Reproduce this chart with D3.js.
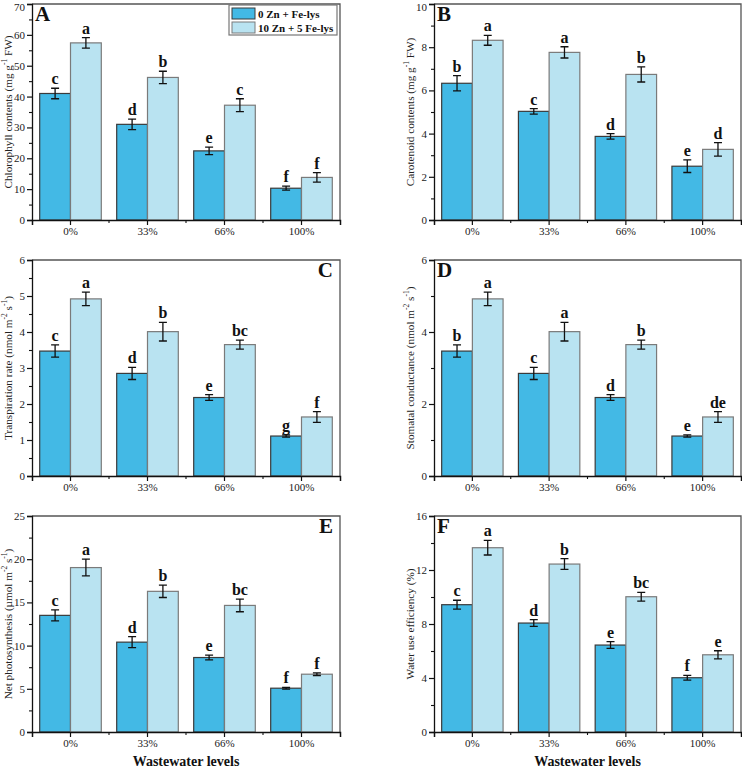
<!DOCTYPE html>
<html><head><meta charset="utf-8">
<script src="https://cdn.jsdelivr.net/npm/d3@7"></script>
<style>body{margin:0;background:#fff}svg{display:block}</style>
</head><body>
<svg id="c" width="742" height="767"></svg>
<script>
const categories = ["0%", "33%", "66%", "100%"];
const seriesNames = ["0 Zn + Fe-lys", "10 Zn + 5 Fe-lys"];

const chlorophyllCtrl = [41.0, 31.0, 22.4, 10.3];
const chlorophyllCtrlErr = [1.7, 1.7, 1.2, 0.65];
const chlorophyllTrt = [57.4, 46.2, 37.2, 13.8];
const chlorophyllTrtErr = [1.7, 2.0, 2.1, 1.55];
const chlorophyllCtrlLetters = ["c", "d", "e", "f"];
const chlorophyllTrtLetters = ["a", "b", "c", "f"];
const chlorophyllTicks = [0, 10, 20, 30, 40, 50, 60, 70];

const carotenoidCtrl = [6.33, 5.03, 3.87, 2.49];
const carotenoidCtrlErr = [0.35, 0.13, 0.13, 0.29];
const carotenoidTrt = [8.32, 7.76, 6.74, 3.27];
const carotenoidTrtErr = [0.23, 0.26, 0.35, 0.31];
const carotenoidCtrlLetters = ["b", "c", "d", "e"];
const carotenoidTrtLetters = ["a", "a", "b", "d"];
const carotenoidTicks = [0, 2, 4, 6, 8, 10];

const transpCtrl = [3.47, 2.85, 2.18, 1.11];
const transpCtrlErr = [0.17, 0.17, 0.08, 0.03];
const transpTrt = [4.92, 4.01, 3.65, 1.64];
const transpTrtErr = [0.19, 0.26, 0.125, 0.15];
const transpCtrlLetters = ["c", "d", "e", "g"];
const transpTrtLetters = ["a", "b", "bc", "f"];
const transpTicks = [0, 1, 2, 3, 4, 5, 6];

const stomatalCtrl = [3.47, 2.85, 2.18, 1.11];
const stomatalCtrlErr = [0.17, 0.17, 0.08, 0.03];
const stomatalTrt = [4.92, 4.01, 3.65, 1.64];
const stomatalTrtErr = [0.19, 0.26, 0.125, 0.15];
const stomatalCtrlLetters = ["b", "c", "d", "e"];
const stomatalTrtLetters = ["a", "a", "b", "de"];
const stomatalTicks = [0, 2, 4, 6];

const photoCtrl = [13.5, 10.4, 8.62, 5.07];
const photoCtrlErr = [0.64, 0.64, 0.27, 0.1];
const photoTrt = [19.03, 16.28, 14.65, 6.69];
const photoTrtErr = [0.97, 0.71, 0.73, 0.15];
const photoCtrlLetters = ["c", "d", "e", "f"];
const photoTrtLetters = ["a", "b", "bc", "f"];
const photoTicks = [0, 5, 10, 15, 20, 25];

const wueCtrl = [9.43, 8.07, 6.44, 4.02];
const wueCtrlErr = [0.33, 0.25, 0.25, 0.17];
const wueTrt = [13.65, 12.44, 10.02, 5.72];
const wueTrtErr = [0.54, 0.4, 0.32, 0.3];
const wueCtrlLetters = ["c", "d", "e", "f"];
const wueTrtLetters = ["a", "b", "bc", "e"];
const wueTicks = [0, 4, 8, 12, 16];

const FONT = "'Liberation Serif', 'Times New Roman', serif";
const colors = ["#43b9e5", "#b9e3f1"];
const strokes = ["#3a3a3a", "#7a7a7a"];

const panels = [
  {letter: "A", corner: "left", col: 0, row: 0, ctrl: chlorophyllCtrl, ctrlErr: chlorophyllCtrlErr, trt: chlorophyllTrt, trtErr: chlorophyllTrtErr, lc: chlorophyllCtrlLetters, lt: chlorophyllTrtLetters, ticks: chlorophyllTicks,
   title: [["Chlorophyll contents (mg g", 0], ["-1", 1], [" FW)", 0]], legend: true},
  {letter: "B", corner: "left", col: 1, row: 0, ctrl: carotenoidCtrl, ctrlErr: carotenoidCtrlErr, trt: carotenoidTrt, trtErr: carotenoidTrtErr, lc: carotenoidCtrlLetters, lt: carotenoidTrtLetters, ticks: carotenoidTicks,
   title: [["Carotenoid contents (mg g", 0], ["-1", 1], [" FW)", 0]]},
  {letter: "C", corner: "right", col: 0, row: 1, ctrl: transpCtrl, ctrlErr: transpCtrlErr, trt: transpTrt, trtErr: transpTrtErr, lc: transpCtrlLetters, lt: transpTrtLetters, ticks: transpTicks,
   title: [["Transpiration rate (nmol m", 0], ["-2", 1], [" s", 0], ["-1", 1], [")", 0]]},
  {letter: "D", corner: "left", col: 1, row: 1, ctrl: stomatalCtrl, ctrlErr: stomatalCtrlErr, trt: stomatalTrt, trtErr: stomatalTrtErr, lc: stomatalCtrlLetters, lt: stomatalTrtLetters, ticks: stomatalTicks,
   title: [["Stomatal conductance (nmol m", 0], ["-2", 1], [" s", 0], ["-1", 1], [")", 0]]},
  {letter: "E", corner: "right", col: 0, row: 2, ctrl: photoCtrl, ctrlErr: photoCtrlErr, trt: photoTrt, trtErr: photoTrtErr, lc: photoCtrlLetters, lt: photoTrtLetters, ticks: photoTicks,
   title: [["Net photosynthesis (µmol m", 0], ["-2", 1], [" s", 0], ["-1", 1], [")", 0]], xtitle: true},
  {letter: "F", corner: "left", col: 1, row: 2, ctrl: wueCtrl, ctrlErr: wueCtrlErr, trt: wueTrt, trtErr: wueTrtErr, lc: wueCtrlLetters, lt: wueTrtLetters, ticks: wueTicks,
   title: [["Water use efficiency (%)", 0]], xtitle: true}
];

const colX = [[32, 340], [434, 741]];
const rowY = [[4, 220], [260, 476], [516, 732]];
const titleX = [8, 410];

const svg = d3.select("#c");

panels.forEach(p => {
  const [x0, x1] = colX[p.col];
  const [y0, y1] = rowY[p.row];
  const g = svg.append("g");
  const x = d3.scaleBand().domain(categories).range([x0, x1]).paddingInner(0.2).paddingOuter(0.1);
  const xs = d3.scaleBand().domain([0, 1]).range([0, x.bandwidth()]);
  const ymax = p.ticks[p.ticks.length - 1];
  const y = d3.scaleLinear().domain([0, ymax]).range([y1, y0]);
  const step = p.ticks[1] - p.ticks[0];
  const minor = d3.range(step / 2, ymax, step);

  // frame top/right
  g.append("path").attr("d", `M${x0},${y0}H${x1}V${y1}`).attr("fill", "none").attr("stroke", "#555").attr("stroke-width", 1.3);

  // bars
  const series = [
    {vals: p.ctrl, errs: p.ctrlErr, lets: p.lc, i: 0},
    {vals: p.trt, errs: p.trtErr, lets: p.lt, i: 1}
  ];
  series.forEach(s => {
    categories.forEach((c, j) => {
      const bx = x(c) + xs(s.i);
      const bw = xs.bandwidth();
      g.append("rect").attr("x", bx).attr("y", y(s.vals[j])).attr("width", bw).attr("height", y(0) - y(s.vals[j]))
        .attr("fill", colors[s.i]).attr("stroke", strokes[s.i]).attr("stroke-width", 1.2);
      const cx = bx + bw / 2;
      const hi = y(s.vals[j] + s.errs[j]), lo = y(s.vals[j] - s.errs[j]);
      g.append("path").attr("d", `M${cx},${hi}V${lo}M${cx - 4},${hi}H${cx + 4}M${cx - 4},${lo}H${cx + 4}`)
        .attr("stroke", "#111").attr("stroke-width", 1.3).attr("fill", "none");
      g.append("text").attr("x", cx).attr("y", hi - 4).attr("text-anchor", "middle")
        .attr("font-family", FONT).attr("font-weight", "bold").attr("font-size", 16).attr("fill", "#111").text(s.lets[j]);
    });
  });

  // y axis
  const ya = d3.axisLeft(y).tickValues(p.ticks).tickSize(5).tickPadding(2).tickFormat(d3.format("d"));
  const yg = g.append("g").attr("transform", `translate(${x0},0)`).call(ya);
  yg.select(".domain").attr("stroke", "#111").attr("stroke-width", 1.3);
  yg.selectAll(".tick line").attr("stroke", "#111").attr("stroke-width", 1.2);
  yg.selectAll("text").attr("font-family", FONT).attr("font-size", 11).attr("fill", "#222");
  if (p.row === 0) {
    yg.selectAll(".tick text").filter(d => d === ymax).attr("dy", "0.62em");
  }
  g.append("g").attr("transform", `translate(${x0},0)`).call(d3.axisLeft(y).tickValues(minor).tickSize(3).tickFormat(""))
    .call(a => { a.select(".domain").remove(); a.selectAll("line").attr("stroke", "#111").attr("stroke-width", 1.1); });

  // x axis
  const xa = d3.axisBottom(x).tickSize(5).tickPadding(2);
  const xg = g.append("g").attr("transform", `translate(0,${y1})`).call(xa);
  xg.select(".domain").attr("stroke", "#111").attr("stroke-width", 1.5);
  xg.selectAll(".tick line").attr("stroke", "#111").attr("stroke-width", 1.2);
  xg.selectAll("text").attr("font-family", FONT).attr("font-size", 11).attr("fill", "#222");
  const bounds = categories.slice(1).map(c => x(c) - x.step() * x.paddingInner() / 2);
  xg.selectAll(".minor").data(bounds).enter().append("line").attr("class", "minor")
    .attr("x1", d => d).attr("x2", d => d).attr("y1", 0).attr("y2", 3).attr("stroke", "#111").attr("stroke-width", 1.1);

  // y title
  const tx = titleX[p.col], ty = (y0 + y1) / 2;
  const t = g.append("text").attr("transform", `translate(${tx},${ty}) rotate(-90)`).attr("text-anchor", "middle")
    .attr("dominant-baseline", "central").attr("font-family", FONT).attr("font-size", 11.2).attr("fill", "#222");
  let prevSup = 0;
  p.title.forEach(([s, sup]) => {
    const ts = t.append("tspan").text(s);
    if (sup) { ts.attr("font-size", 7.5).attr("dy", prevSup ? 0 : -4); }
    else { if (prevSup) ts.attr("dy", 4); }
    prevSup = sup;
  });

  // panel letter
  g.append("text").attr("x", p.corner === "left" ? x0 + 3 : x1 - 7).attr("y", y0 + 17)
    .attr("text-anchor", p.corner === "left" ? "start" : "end")
    .attr("font-family", FONT).attr("font-weight", "bold").attr("font-size", 21).attr("fill", "#111").text(p.letter);

  if (p.xtitle) {
    g.append("text").attr("x", (x0 + x1) / 2).attr("y", y1 + 33.5).attr("text-anchor", "middle")
      .attr("font-family", FONT).attr("font-weight", "bold").attr("font-size", 14).attr("fill", "#111").text("Wastewater levels");
  }

  if (p.legend) {
    const lx = 229, ly = 5;
    const lg = g.append("g");
    lg.append("rect").attr("x", lx).attr("y", ly).attr("width", 108).attr("height", 30).attr("fill", "#fff").attr("stroke", "#777").attr("stroke-width", 1.2);
    seriesNames.forEach((n, i) => {
      lg.append("rect").attr("x", lx + 3).attr("y", ly + 3 + i * 14).attr("width", 23).attr("height", 11)
        .attr("fill", colors[i]).attr("stroke", strokes[i]).attr("stroke-width", 1);
      lg.append("text").attr("x", lx + 29).attr("y", ly + 12.5 + i * 14).attr("font-family", FONT).attr("font-weight", "bold")
        .attr("font-size", 11).attr("fill", "#111").text(n);
    });
  }
});
</script>
</body></html>
